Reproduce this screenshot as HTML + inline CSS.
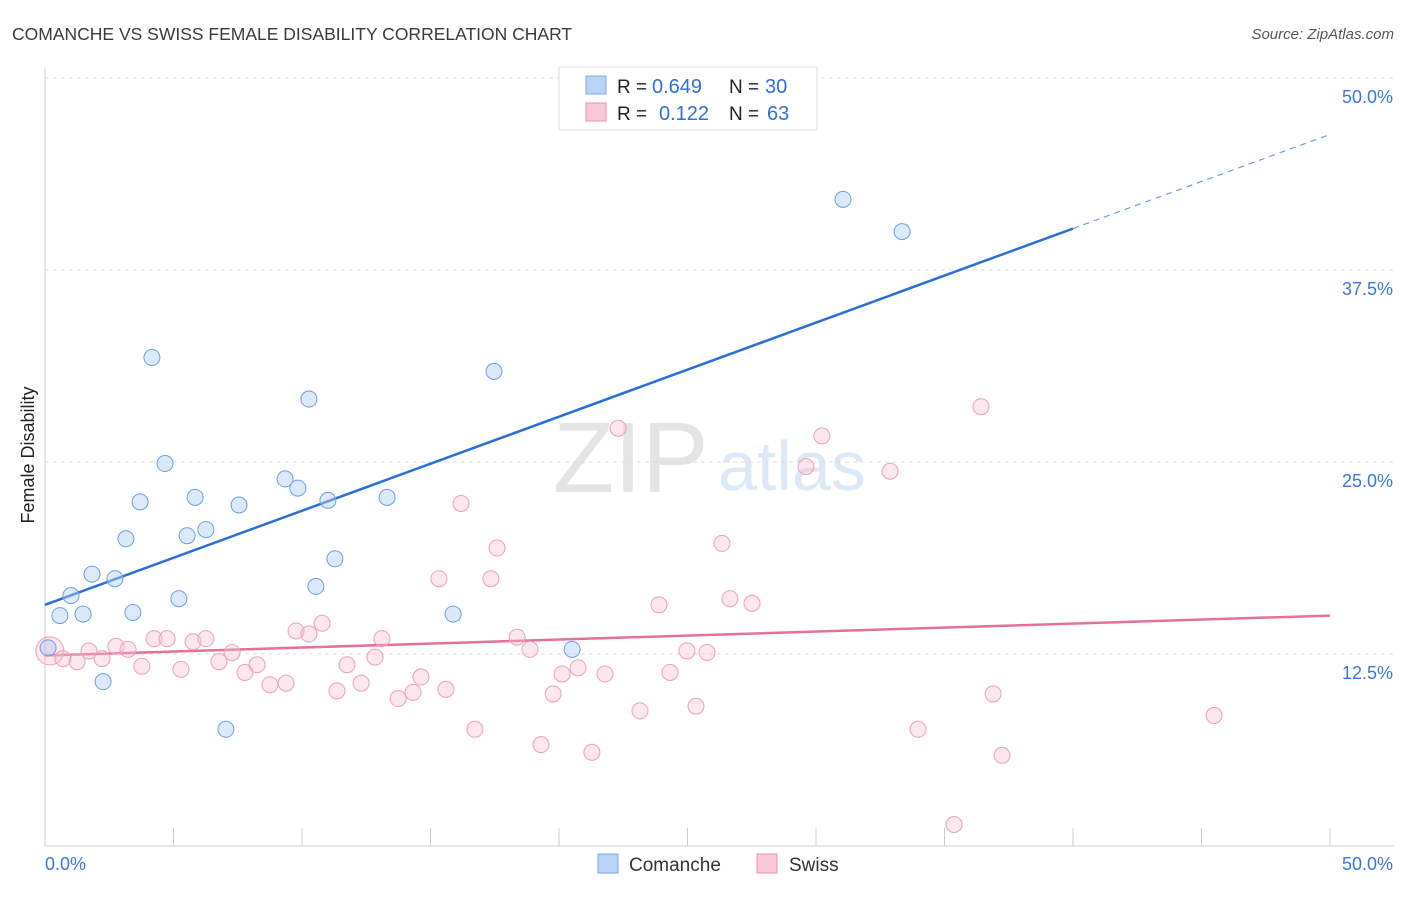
<!DOCTYPE html>
<html><head><meta charset="utf-8">
<style>
body{margin:0;background:#fff;font-family:"Liberation Sans",sans-serif;}
svg text{font-family:"Liberation Sans",sans-serif;}
</style></head>
<body>
<svg id="chart" width="1406" height="892" xmlns="http://www.w3.org/2000/svg">
<text x="12" y="40" font-size="17.5" fill="#3a3a3a">COMANCHE VS SWISS FEMALE DISABILITY CORRELATION CHART</text>
<text x="1394" y="39" font-size="15" fill="#555" text-anchor="end" font-style="italic">Source: ZipAtlas.com</text>
<text x="553" y="492" font-size="100" fill="#e4e4e4" font-family="Liberation Serif">ZIP</text>
<text x="718" y="490" font-size="70" fill="#dde8f6">atlas</text>
<text x="34" y="455" font-size="18" fill="#222" text-anchor="middle" transform="rotate(-90 34 455)">Female Disability</text>
<g id="grid"></g><g id="axes"></g><g id="lines"></g><g id="points"></g>
<g>
<rect x="559" y="67" width="258" height="63" fill="#fff" stroke="#ddd"/>
<rect x="586" y="76" width="20" height="18" fill="#b9d3f5" stroke="#7fa8e0"/>
<rect x="586" y="103" width="20" height="18" fill="#f9c8d6" stroke="#e895ae"/>
<text x="617" y="93" font-size="19" fill="#222">R =</text>
<text x="652" y="93" font-size="20" fill="#2f6fd6">0.649</text>
<text x="729" y="93" font-size="19" fill="#222">N =</text>
<text x="765" y="93" font-size="20" fill="#2f6fd6">30</text>
<text x="617" y="120" font-size="19" fill="#222">R =</text>
<text x="659" y="120" font-size="20" fill="#2f6fd6">0.122</text>
<text x="729" y="120" font-size="19" fill="#222">N =</text>
<text x="767" y="120" font-size="20" fill="#2f6fd6">63</text>
</g>
<g>
<rect x="598" y="854" width="20" height="19" fill="#b9d3f5" stroke="#7fa8e0"/>
<text x="629" y="871" font-size="19" fill="#333">Comanche</text>
<rect x="757" y="854" width="20" height="19" fill="#f9c8d6" stroke="#e895ae"/>
<text x="789" y="871" font-size="19" fill="#333">Swiss</text>
</g>
</svg>
<script>
const yTicks=[12.5,25,37.5,50];
const yTickLabels=["12.5%","25.0%","37.5%","50.0%"];
const xTickValues=[0,5,10,15,20,25,30,35,40,45,50];
const comancheX=[0.12,0.58,1.01,1.48,1.83,2.26,2.72,3.15,3.42,3.70,4.16,4.67,5.21,5.53,5.84,6.26,7.04,7.55,9.34,9.84,10.27,10.54,11.01,11.28,13.31,15.88,17.47,20.51,31.05,33.35];
const comancheY=[12.9,15.0,16.3,15.1,17.7,10.7,17.4,20.0,15.2,22.4,31.8,24.9,16.1,20.2,22.7,20.6,7.6,22.2,23.9,23.3,29.1,16.9,22.5,18.7,22.7,15.1,30.9,12.8,42.1,40.0];
const swissX=[0.19,0.70,1.25,1.71,2.22,2.76,3.23,3.77,4.24,4.75,5.29,5.76,6.26,6.77,7.28,7.78,8.25,8.75,9.38,9.77,10.27,10.78,11.36,11.75,12.30,12.84,13.11,13.74,14.32,14.63,15.60,15.33,16.19,16.73,17.35,17.59,18.37,18.87,19.30,19.77,20.12,20.74,21.28,21.79,22.30,23.15,23.89,24.32,24.98,25.33,25.76,26.34,26.65,27.51,29.61,30.23,32.88,33.97,35.37,36.42,36.89,37.24,45.49];
const swissY=[12.7,12.2,12.0,12.7,12.2,13.0,12.8,11.7,13.5,13.5,11.5,13.3,13.5,12.0,12.6,11.3,11.8,10.5,10.6,14.0,13.8,14.5,10.1,11.8,10.6,12.3,13.5,9.6,10.0,11.0,10.2,17.4,22.3,7.6,17.4,19.4,13.6,12.8,6.6,9.9,11.2,11.6,6.1,11.2,27.2,8.8,15.7,11.3,12.7,9.1,12.6,19.7,16.1,15.8,24.7,26.7,24.4,7.6,1.4,28.6,9.9,5.9,8.5];
const comancheTrend=[15.7,0.6125];
const swissTrend=[12.4,0.052];
const NS="http://www.w3.org/2000/svg";
const X=v=>45+v/50*1285, Y=v=>846-v/12.5*192;
function mk(tag,attrs,parent){const e=document.createElementNS(NS,tag);for(const k in attrs)e.setAttribute(k,attrs[k]);document.getElementById(parent).appendChild(e);return e;}
yTicks.forEach((t,i)=>{
 const g=mk('line',{x1:45,x2:1394,y1:Y(t),y2:Y(t),stroke:'#ddd','stroke-dasharray':'4,4'},'grid');
 
 
 const l=mk('text',{x:1393,y:Y(t)+25,'font-size':18,fill:'#3a78d8','text-anchor':'end'},'grid');l.textContent=yTickLabels[i];
 
 
});
const ax=mk('line',{x1:45,x2:1394,y1:846,y2:846,stroke:'#ccc'},'axes');


const ay=mk('line',{x1:45,x2:45,y1:68,y2:846,stroke:'#ccc'},'axes');


xTickValues.forEach(t=>{const e=mk('line',{x1:X(t),x2:X(t),y1:828,y2:846,stroke:'#ccc'},'axes');
 
 });
let t0=mk('text',{x:45,y:870,'font-size':18,fill:'#3a78d8'},'axes');t0.textContent="0.0%";


let t1=mk('text',{x:1393,y:870,'font-size':18,fill:'#3a78d8','text-anchor':'end'},'axes');t1.textContent="50.0%";


swissX.forEach((x,i)=>{const c=mk('circle',{cx:X(x),cy:Y(swissY[i]),r:i==0?14:8,fill:'rgba(249,190,208,0.38)',stroke:'#eaa0b8','stroke-width':1},'points');
 
 });
comancheX.forEach((x,i)=>{const c=mk('circle',{cx:X(x),cy:Y(comancheY[i]),r:8,fill:'rgba(178,206,244,0.45)',stroke:'#6f9de0','stroke-width':1},'points');
 
 });
const f=(tr,x)=>tr[0]+tr[1]*x;
const bl=mk('line',{x1:X(0),y1:Y(f(comancheTrend,0)),x2:X(40),y2:Y(f(comancheTrend,40)),stroke:'#2a6fd8','stroke-width':2.5},'lines');


const bd=mk('line',{x1:X(40),y1:Y(f(comancheTrend,40)),x2:X(50),y2:Y(f(comancheTrend,50)),stroke:'#6f9de0','stroke-width':1.2,'stroke-dasharray':'6,5'},'lines');


const pl=mk('line',{x1:X(0),y1:Y(f(swissTrend,0)),x2:X(50),y2:Y(f(swissTrend,50)),stroke:'#e5709a','stroke-width':2.5},'lines');


</script>
</body></html>
